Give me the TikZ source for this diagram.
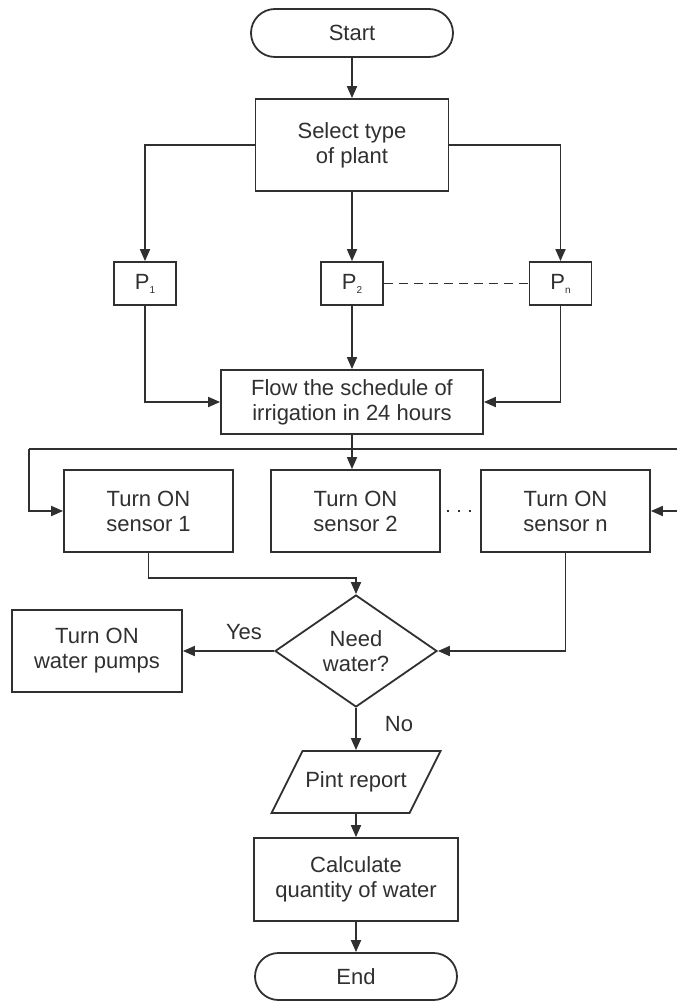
\documentclass[tikz,border=0pt]{standalone}
\usepackage{fontspec}
\setmainfont{Liberation Sans}
\usetikzlibrary{arrows.meta,shapes.geometric,shapes.misc}
\definecolor{ink}{HTML}{303030}
\newcommand{\sub}[1]{\raisebox{-0.35ex}{\fontsize{10}{10}\selectfont #1}}
\begin{document}
\begin{tikzpicture}[x=1pt,y=-1pt,
  line width=1.8pt,
  font=\fontsize{22}{25}\selectfont,
  box/.style={draw=ink, rectangle, align=center, inner sep=0pt, text=ink},
  term/.style={box, rounded rectangle},
  decision/.style={box, diamond},
  arr/.style={draw=ink, -{Triangle[length=12pt,width=10pt]}},
  conn/.style={draw=ink},
  lbl/.style={text=ink, inner sep=0pt}
]
\fill[white] (0,0) rectangle (677,1001);
\useasboundingbox (0,0) rectangle (677,1001);

\node[term, minimum width=202pt, minimum height=48pt] (start) at (352,33) {Start};
\node[box, minimum width=193pt, minimum height=92pt] (select) at (352,145) {Select type\\of plant};
\node[box, minimum width=62pt, minimum height=43pt] (p1) at (145,283.5) {P\sub{1}};
\node[box, minimum width=62pt, minimum height=43pt] (p2) at (352,283.5) {P\sub{2}};
\node[box, minimum width=62pt, minimum height=43pt] (pn) at (560.5,283.5) {P\sub{n}};
\node[box, minimum width=262pt, minimum height=64pt] (flow) at (352,402) {Flow the schedule of\\irrigation in 24 hours};
\node[box, minimum width=169pt, minimum height=82pt] (s1) at (148.5,511) {Turn ON\\sensor 1};
\node[box, minimum width=169pt, minimum height=82pt] (s2) at (355.5,511) {Turn ON\\sensor 2};
\node[box, minimum width=169pt, minimum height=82pt] (sn) at (565.5,511) {Turn ON\\sensor n};
\node[decision, minimum width=162pt, minimum height=112pt] (dec) at (356,651) {Need\\water?};
\node[box, minimum width=170pt, minimum height=82pt] (pump) at (97,651) {Turn ON\\water pumps};
\node[lbl, minimum width=138pt, minimum height=62pt, align=center] (para) at (356,782) {Pint report};
\draw[draw=ink, line join=miter] (302.5,751) -- (440.5,751) -- (409.5,813) -- (271.5,813) -- cycle;
\node[box, minimum width=204pt, minimum height=83pt] (calc) at (356,879.5) {Calculate\\quantity of water};
\node[term, minimum width=202pt, minimum height=47pt] (end) at (356,976.5) {End};

\coordinate (lx) at (29,449);
\coordinate (rx) at (678,449);
\coordinate (j1) at (356,578);

\draw[arr] (start.south) -- (select.north);
\draw[arr] (select.west) -| (p1.north);
\draw[arr] (select.south) -- (p2.north);
\draw[arr] (select.east) -| (pn.north);
\draw[conn, dash pattern=on 9pt off 6pt] (p2.east) -- (pn.west);
\draw[arr] (p1.south) |- (flow.west);
\draw[arr] (p2.south) -- (flow.north);
\draw[arr] (pn.south) |- (flow.east);
\draw[arr] (flow.south) -- (flow.south |- s2.north);
\draw[conn] (lx) -- (rx);
\draw[arr] (lx) |- (s1.west);
\draw[arr] (rx) |- (sn.east);
\draw[conn, dash pattern=on 2pt off 9pt] ([xshift=6pt]s2.east) -- (sn.west);
\draw[arr] (s1.south) |- (j1) -- (dec.north);
\draw[arr] (sn.south) |- (dec.east);
\draw[arr] (dec.west) -- (pump.east);
\draw[arr] (dec.south) -- (para.north);
\draw[arr] (para.south) -- (calc.north);
\draw[arr] (calc.south) -- (end.north);

\node[lbl] (yes) at (244,632) {Yes};
\node[lbl] (no) at (399,724) {No};
\end{tikzpicture}
\end{document}
